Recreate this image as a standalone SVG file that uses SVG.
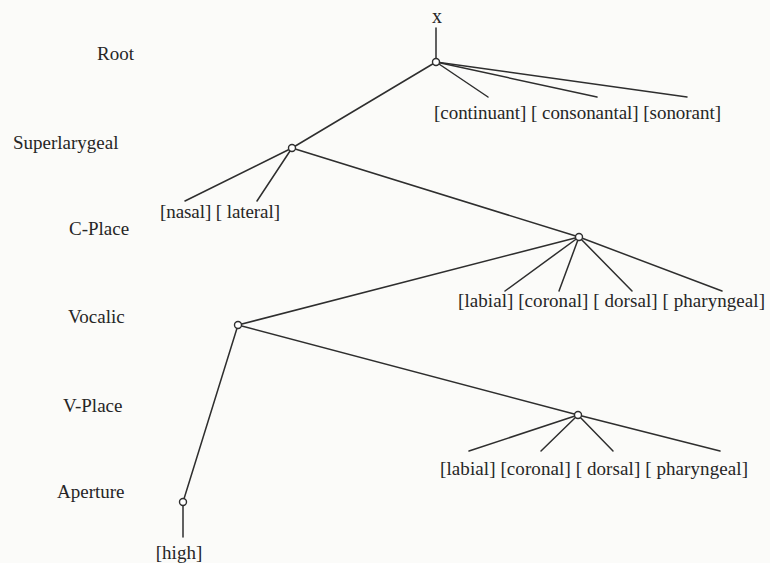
<svg xmlns="http://www.w3.org/2000/svg" width="770" height="563" viewBox="0 0 770 563">
<style>
.t{font-family:"Liberation Serif","Times New Roman",serif;font-size:19px;fill:#262626}
.e{stroke:#2e2e2e;stroke-width:1.5;fill:none;stroke-linecap:round}
.n{fill:#fff;stroke:#2e2e2e;stroke-width:1.4}
</style>
<rect width="770" height="563" fill="#fbfbf9"/>
<g id="tier-labels">
<text class="t" x="97" y="60">Root</text>
<text class="t" x="13" y="149">Superlarygeal</text>
<text class="t" x="69" y="235">C-Place</text>
<text class="t" x="68" y="323">Vocalic</text>
<text class="t" x="63" y="412">V-Place</text>
<text class="t" x="57" y="498">Aperture</text>
</g>
<g id="connectors">
<line class="e" x1="436" y1="28" x2="436" y2="58"/>
<line class="e" x1="436" y1="62" x2="292" y2="148"/>
<line class="e" x1="436" y1="62" x2="488" y2="97"/>
<line class="e" x1="436" y1="62" x2="597" y2="97"/>
<line class="e" x1="436" y1="62" x2="687" y2="97"/>
<line class="e" x1="292" y1="148" x2="185" y2="201"/>
<line class="e" x1="292" y1="148" x2="257" y2="201"/>
<line class="e" x1="292" y1="148" x2="579" y2="237"/>
<line class="e" x1="579" y1="237" x2="238" y2="325"/>
<line class="e" x1="579" y1="237" x2="505" y2="291"/>
<line class="e" x1="579" y1="237" x2="559" y2="291"/>
<line class="e" x1="579" y1="237" x2="632" y2="291"/>
<line class="e" x1="579" y1="237" x2="722" y2="291"/>
<line class="e" x1="238" y1="325" x2="578" y2="415"/>
<line class="e" x1="238" y1="325" x2="183" y2="502"/>
<line class="e" x1="578" y1="415" x2="469" y2="451"/>
<line class="e" x1="578" y1="415" x2="541" y2="451"/>
<line class="e" x1="578" y1="415" x2="613" y2="451"/>
<line class="e" x1="578" y1="415" x2="720" y2="451"/>
<line class="e" x1="183" y1="506" x2="183" y2="537"/>
</g>
<g id="node-root">
<text class="t" x="437" y="23" text-anchor="middle" style="font-size:20px">x</text>
<circle class="n" cx="436" cy="62" r="3.5"/>
<text class="t" x="434" y="119" textLength="287" lengthAdjust="spacing">[continuant] [ consonantal] [sonorant]</text>
</g>
<g id="node-superlarygeal">
<circle class="n" cx="292" cy="148" r="3.5"/>
<text class="t" x="160" y="218" textLength="120" lengthAdjust="spacing">[nasal] [ lateral]</text>
</g>
<g id="node-cplace">
<circle class="n" cx="579" cy="237" r="3.5"/>
<text class="t" x="458" y="307" textLength="307" lengthAdjust="spacing">[labial] [coronal] [ dorsal] [ pharyngeal]</text>
</g>
<g id="node-vocalic">
<circle class="n" cx="238" cy="325" r="3.5"/>
</g>
<g id="node-vplace">
<circle class="n" cx="578" cy="415" r="3.5"/>
<text class="t" x="440" y="475" textLength="308" lengthAdjust="spacing">[labial] [coronal] [ dorsal] [ pharyngeal]</text>
</g>
<g id="node-aperture">
<circle class="n" cx="183" cy="502" r="3.5"/>
<text class="t" x="179" y="559" text-anchor="middle">[high]</text>
</g>
</svg>
